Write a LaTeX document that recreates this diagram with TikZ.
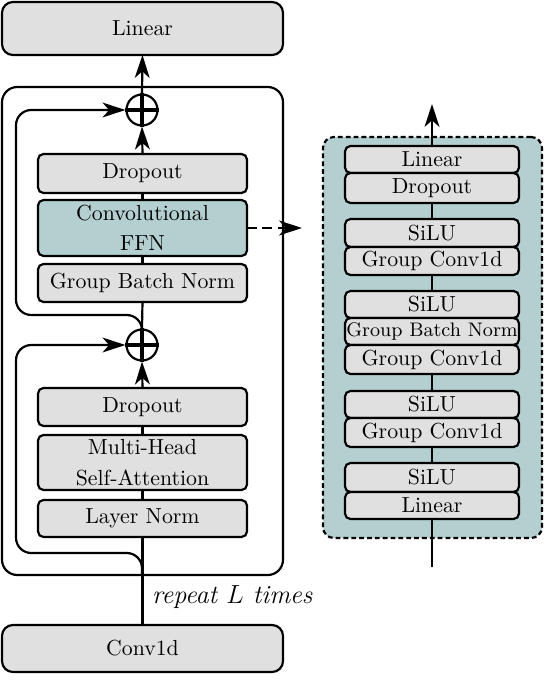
\documentclass[tikz,border=0pt]{standalone}
\usetikzlibrary{arrows.meta}
\definecolor{boxgray}{RGB}{224,224,224}
\definecolor{tealfill}{RGB}{180,207,208}
\newcommand\mkbox[7]{\node[#1, minimum width={(#5-#3)*0.4587pt}, minimum height={(#6-#4)*0.4587pt}] (#2) at ({(#3+#5)/2},{(#4+#6)/2}) {#7};}
\begin{document}
\begin{tikzpicture}[x=0.4587pt,y=-0.4587pt, line width=1pt,
  box/.style={draw, fill=boxgray, rounded corners=2.5pt, inner sep=0pt, outer sep=0pt, align=center, line width=1pt},
  bigbox/.style={box, rounded corners=5pt},
  ffnbox/.style={box, fill=tealfill},
  plusnode/.style={draw, circle, fill=white, minimum size=14.2pt, inner sep=0pt, line width=1pt},
  arr/.style={-{Stealth[length=10.5pt,width=6.8pt,inset=3pt]}},
  dasharr/.style={arr, dash pattern=on 4.5pt off 2.5pt},
  panelbox/.style={draw, fill=tealfill, rounded corners=5pt, inner sep=0pt, dash pattern=on 2.2pt off 1.4pt, line width=1pt},
  blockbox/.style={draw, rounded corners=7pt, inner sep=0pt, line width=1pt}
]
\useasboundingbox (0,0) rectangle (544,682);

% outer repeat block
\mkbox{blockbox}{blk}{2}{87}{283}{575}{}

% top / bottom boxes
\mkbox{bigbox}{lin}{2}{2}{283}{55}{Linear}
\mkbox{bigbox}{conv}{2}{625}{283}{672}{Conv1d}

\coordinate (s1) at (142,574);
\coordinate (s2) at (142,334);

% left column boxes
\mkbox{box}{d1}{38}{154}{247}{193}{Dropout}
\mkbox{ffnbox}{ffn}{38}{200}{247}{256}{Convolutional\\[1.5pt]FFN}
\mkbox{box}{gbn}{38}{264}{247}{302}{Group Batch Norm}
\mkbox{box}{d2}{38}{388}{247}{426}{Dropout}
\mkbox{box}{mha}{38}{435}{247}{490}{Multi-Head\\[2pt]Self-Attention}
\mkbox{box}{ln}{38}{500}{247}{537}{Layer Norm}

\node[plusnode] (p1) at (142,110) {};
\node[plusnode] (p2) at (142,345) {};
\draw[line width=1.4pt] (p1.north) -- (p1.south) (p1.west) -- (p1.east);
\draw[line width=1.4pt] (p2.north) -- (p2.south) (p2.west) -- (p2.east);

\draw[arr, rounded corners=7pt] (s1) |- (16,553) |- (p2.west);
\draw[arr, rounded corners=7pt] (s2) |- (16,315) |- (p1.west);

% main flow
\draw (conv.north) -- (ln.south);
\draw (ln.north) -- (mha.south);
\draw (mha.north) -- (d2.south);
\draw[arr] (d2.north) -- (p2.south);
\draw (p2.north) -- (gbn.south);
\draw (gbn.north) -- (ffn.south);
\draw (ffn.north) -- (d1.south);
\draw[arr] (d1.north) -- (p1.south);
\draw[arr] (p1.north) -- (lin.south);

\node[anchor=west, inner sep=0pt] (rep) at (151,597) {\large\textit{repeat $L$ times}};

% right panel
\mkbox{panelbox}{panel}{323}{137}{542}{538}{}
\coordinate (ffnend) at (302,228);
\draw[dasharr] (ffn.east) -- (ffnend);

\mkbox{box}{r1}{345}{146}{519}{173}{Linear}
\mkbox{box}{r2}{345}{173}{519}{203}{Dropout}
\mkbox{box}{r3}{345}{219}{519}{247}{SiLU}
\mkbox{box}{r4}{345}{247}{519}{275}{Group Conv1d}
\mkbox{box}{r5}{345}{291}{519}{318}{SiLU}
\mkbox{box}{r6}{345}{318}{519}{345}{\small Group Batch Norm}
\mkbox{box}{r7}{345}{345}{519}{374}{Group Conv1d}
\mkbox{box}{r8}{345}{391}{519}{418}{SiLU}
\mkbox{box}{r9}{345}{418}{519}{447}{Group Conv1d}
\mkbox{box}{r10}{345}{463}{519}{492}{SiLU}
\mkbox{box}{r11}{345}{492}{519}{519}{Linear}

\coordinate (rtop) at (432,104);
\coordinate (rbot) at (432,567);
\draw (rbot) -- (r11.south);
\draw (r10.north) -- (r9.south);
\draw (r8.north) -- (r7.south);
\draw (r5.north) -- (r4.south);
\draw (r3.north) -- (r2.south);
\draw[arr] (r1.north) -- (rtop);
\end{tikzpicture}
\end{document}
